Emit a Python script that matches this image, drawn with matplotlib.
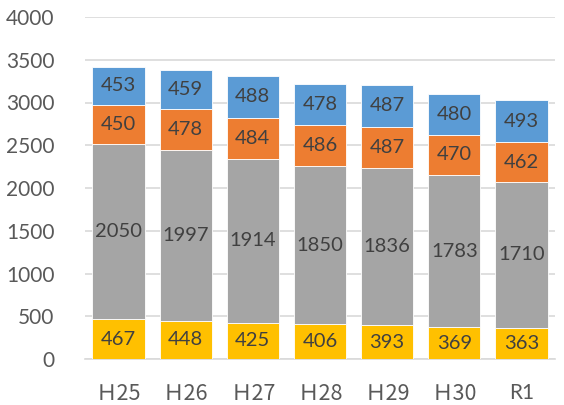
import matplotlib.pyplot as plt
import numpy as np

categories = ["Ｈ25", "Ｈ26", "Ｈ27", "Ｈ28", "Ｈ29", "Ｈ30", "R1"]
s_yellow = [467, 448, 425, 406, 393, 369, 363]
s_gray = [2050, 1997, 1914, 1850, 1836, 1783, 1710]
s_orange = [450, 478, 484, 486, 487, 470, 462]
s_blue = [453, 459, 488, 478, 487, 480, 493]

colors = ["#FFC000", "#A5A5A5", "#ED7D31", "#5B9BD5"]
series = [s_yellow, s_gray, s_orange, s_blue]

plt.rcParams['font.family'] = ['Lato', 'Noto Sans CJK JP', 'DejaVu Sans']

fig = plt.figure(figsize=(5.64, 4.05), dpi=100)
ax = fig.add_axes([85/564, 1 - 359/405, 470/564, 342/405])

x = np.arange(len(categories))
bottom = np.zeros(len(categories))
for vals, c in zip(series, colors):
    vals = np.array(vals)
    ax.bar(x, vals, bottom=bottom, width=0.78, color=c, edgecolor='white', linewidth=0.6, zorder=3)
    for xi, b, v in zip(x, bottom, vals):
        ax.text(xi, b + v / 2, str(v), ha='center', va='center', fontsize=14.5, color='#404040', zorder=4)
    bottom += vals

ax.set_xlim(-0.5, len(categories) - 0.5)
ax.set_ylim(0, 4000)
ax.set_yticks(np.arange(0, 4001, 500))
ax.yaxis.grid(True, color='#D9D9D9', linewidth=1.2, zorder=0)
ax.set_axisbelow(True)
for s in ['top', 'right', 'left']:
    ax.spines[s].set_visible(False)
ax.spines['bottom'].set_color('#D9D9D9')
ax.spines['bottom'].set_linewidth(1.2)
ax.tick_params(axis='both', length=0, labelsize=15, colors='#595959')
ax.tick_params(axis='y', pad=22)
ax.tick_params(axis='x', pad=17)
ax.set_xticks(x)
ax.set_xticklabels(categories)
for lbl in ax.get_xticklabels():
    if lbl.get_text().startswith("Ｈ"):
        lbl.set_family(['Noto Sans CJK JP', 'DejaVu Sans'])
        lbl.set_fontsize(15.5)

fig.savefig("out.png", dpi=100)
